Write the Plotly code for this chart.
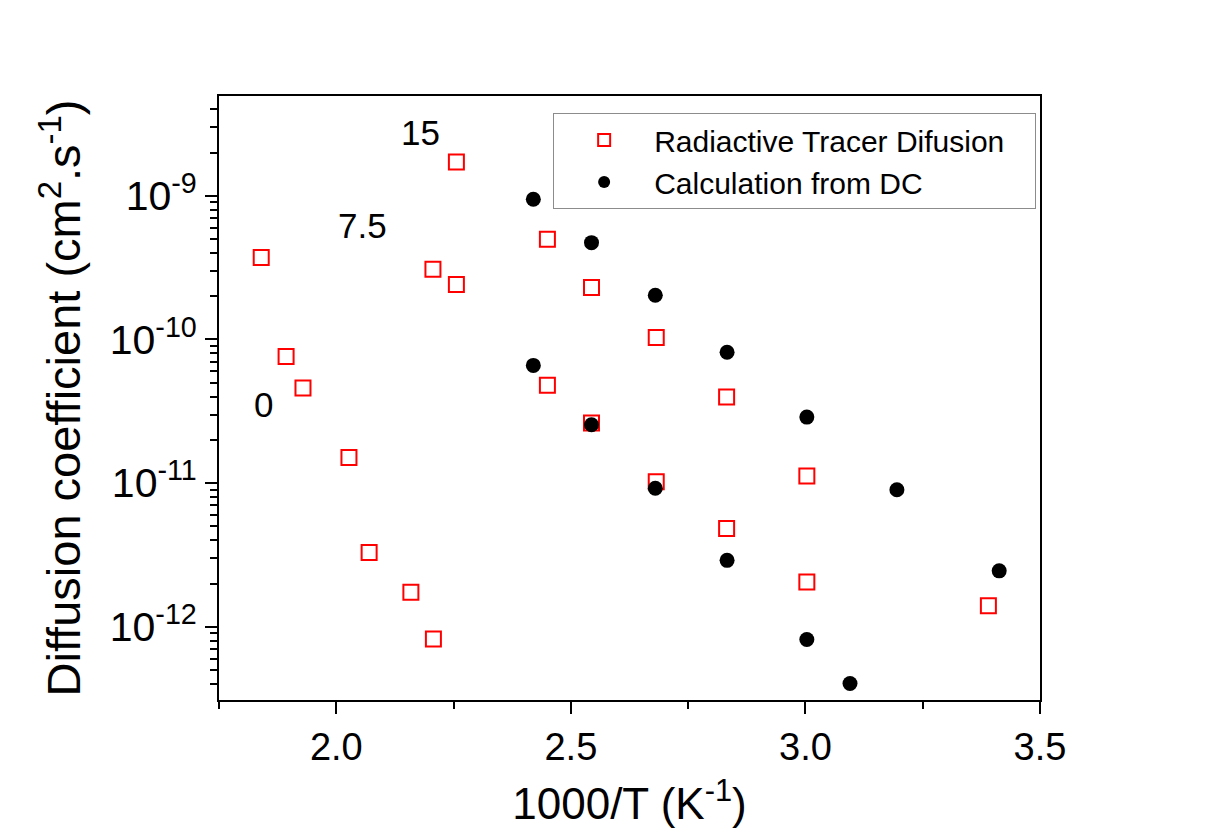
import plotly.graph_objects as go

# Radiactive tracer diffusion (open red squares)
red_x = [1.840, 1.893, 1.929, 2.027, 2.070, 2.159, 2.207, 2.206, 2.256, 2.256,
         2.450, 2.450, 2.544, 2.544, 2.682, 2.682, 2.832, 2.832, 3.003, 3.003, 3.390]
red_y = [3.72e-10, 7.6e-11, 4.59e-11, 1.51e-11, 3.29e-12, 1.74e-12, 8.2e-13, 3.08e-10, 2.41e-10, 1.72e-9,
         4.98e-10, 4.8e-11, 2.3e-10, 2.62e-11, 1.03e-10, 1.02e-11, 3.98e-11, 4.83e-12, 1.12e-11, 2.05e-12, 1.40e-12]

# Calculation from DC (black dots)
black_x = [2.420, 2.544, 2.680, 2.833, 3.003, 2.420, 2.544, 2.680, 2.833, 3.003, 3.195, 3.413, 3.095]
black_y = [9.46e-10, 4.72e-10, 2.03e-10, 8.15e-11, 2.88e-11, 6.6e-11, 2.55e-11, 9.2e-12, 2.9e-12, 8.15e-13,
           9.0e-12, 2.45e-12, 4.03e-13]

# Curve labels
label_text = ["15", "7.5", "0"]
label_x = [2.180, 2.055, 1.844]
label_logy = [-8.556, -9.210, -10.450]

y_tickvals = [1e-12, 1e-11, 1e-10, 1e-9]
y_ticktext = ["10<sup>-12</sup>", "10<sup>-11</sup>", "10<sup>-10</sup>", "10<sup>-9</sup>"]
x_tickvals = [2.0, 2.5, 3.0, 3.5]
x_ticktext = ["2.0", "2.5", "3.0", "3.5"]

FONT = "Liberation Sans, Arial, sans-serif"

fig = go.Figure()
fig.add_trace(go.Scatter(
    x=red_x, y=red_y, mode="markers", name="Radiactive Tracer Difusion\u00a0\u00a0\u00a0",
    marker=dict(symbol="square-open", size=15, color="#ff0000", line=dict(width=2, color="#ff0000")),
))
fig.add_trace(go.Scatter(
    x=black_x, y=black_y, mode="markers", name="Calculation from DC",
    marker=dict(symbol="circle", size=15, color="#000000"),
))

for t, x, ly in zip(label_text, label_x, label_logy):
    fig.add_annotation(x=x, y=ly, text=t, showarrow=False,
                       font=dict(family=FONT, size=35, color="#000"))

fig.update_layout(
    width=1205, height=837,
    margin=dict(l=219, r=165, t=96, b=137),
    paper_bgcolor="white", plot_bgcolor="white",
    font=dict(family=FONT, color="#000"),
    showlegend=True,
    legend=dict(x=0.407, y=0.972, xanchor="left", yanchor="top",
                bordercolor="#8c8c8c", borderwidth=1, bgcolor="rgba(255,255,255,0)",
                font=dict(family=FONT, size=30, color="#000"),
                tracegroupgap=0, itemsizing="constant", itemwidth=90),
)

fig.update_xaxes(
    range=[1.75, 3.5], showgrid=False, zeroline=False,
    showline=True, linecolor="#000", linewidth=2, mirror=True,
    ticks="outside", ticklen=12, tickwidth=2, tickcolor="#000",
    tickmode="array", tickvals=x_tickvals, ticktext=x_ticktext,
    tickfont=dict(family=FONT, size=38, color="#000"),
    minor=dict(ticks="outside", ticklen=7, tickwidth=2, tickcolor="#000",
               tickmode="array", tickvals=[1.75, 2.25, 2.75, 3.25], showgrid=False),
    title=dict(text="1000/T (K<sup>-1</sup>)", font=dict(family=FONT, size=44, color="#000"), standoff=22),
)

fig.update_yaxes(
    type="log", range=[-12.51, -8.305], showgrid=False, zeroline=False,
    showline=True, linecolor="#000", linewidth=2, mirror=True,
    ticks="outside", ticklen=12, tickwidth=2, tickcolor="#000",
    tickmode="array", tickvals=y_tickvals, ticktext=y_ticktext,
    tickfont=dict(family=FONT, size=41, color="#000"),
    minor=dict(ticks="outside", ticklen=7, tickwidth=2, tickcolor="#000",
               dtick="D1", showgrid=False),
    title=dict(text="Diffusion coefficient (cm<sup>2</sup>.s<sup>-1</sup>)",
               font=dict(family=FONT, size=47, color="#000"), standoff=14),
)

fig.write_html("out.html")
